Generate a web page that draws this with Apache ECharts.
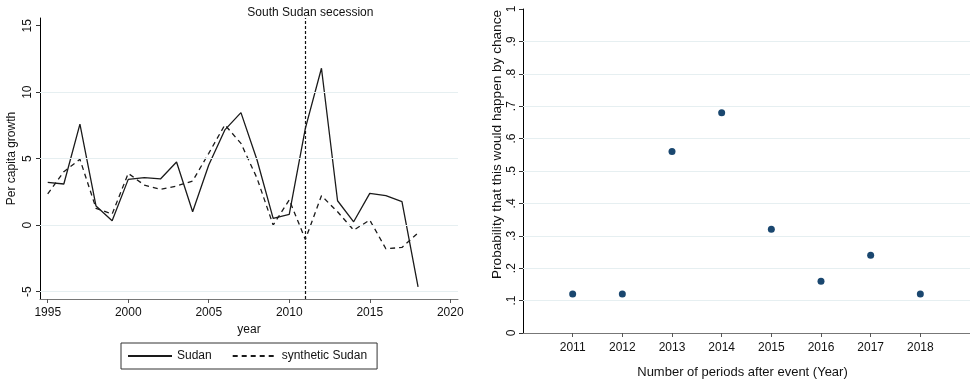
<!DOCTYPE html>
<html>
<head>
<meta charset="utf-8">
<script src="https://cdn.jsdelivr.net/npm/echarts@6/dist/echarts.min.js"></script>
<style>html,body{margin:0;padding:0;background:#fff;}#c{width:970px;height:387px;}</style>
</head>
<body>
<div id="c"></div>
<script>
// ---- data ----
const years = [1995,1996,1997,1998,1999,2000,2001,2002,2003,2004,2005,2006,2007,2008,2009,2010,2011,2012,2013,2014,2015,2016,2017,2018];
const sudan = [3.21,3.09,7.59,1.43,0.33,3.44,3.57,3.47,4.75,1.0,4.52,7.16,8.46,4.9,0.5,0.8,7.28,11.8,1.83,0.25,2.39,2.21,1.76,-4.65];
const synthetic = [2.34,4.02,4.95,1.26,0.83,3.89,3.01,2.69,2.94,3.32,5.4,7.54,6.15,3.52,0.0,1.9,-1.08,2.21,1.0,-0.38,0.38,-1.78,-1.68,-0.58];
const leftXTicks = [1995,2000,2005,2010,2015,2020];
const leftYTicks = [-5,0,5,10,15];
const leftGrid = [-5,0,5,10];
const eventYear = 2011;
const eventLabel = 'South Sudan secession';

const periods = [2011,2012,2013,2014,2015,2016,2017,2018];
const probability = [0.12,0.12,0.56,0.68,0.32,0.16,0.24,0.12];
const rightGrid = [0.1,0.2,0.3,0.4,0.5,0.6,0.7,0.8,0.9];

const font = 'Liberation Sans, Arial, sans-serif';
const txt = {fontFamily: font, fontSize: 12, color: '#111'};
const gridLineStyle = {color: '#e6eff1', width: 1, type: 'solid'};

function probFmt(v){
  const r = Math.round(v*10)/10;
  if (r === 0) return '0';
  if (r === 1) return '1';
  return r.toFixed(1).replace('0.', '.');
}
const plain = v => String(Math.round(v));

const chart = echarts.init(document.getElementById('c'), null, {renderer: 'canvas'});
chart.setOption({
  animation: false,
  backgroundColor: '#fff',
  textStyle: {fontFamily: font},
  grid: [
    {left: 40, top: 18, width: 418, height: 281, containLabel: false},
    {left: 523, top: 9, width: 447, height: 324, containLabel: false}
  ],
  legend: {
    data: ['Sudan', 'synthetic Sudan'],
    left: 121, top: 343,
    padding: [7, 10, 7, 6],
    itemWidth: 44, itemHeight: 10, itemGap: 20,
    borderColor: '#333', borderWidth: 1,
    itemStyle: {opacity: 0, borderWidth: 0},
    textStyle: {fontFamily: font, fontSize: 12, color: '#111'}
  },
  xAxis: [
    {
      gridIndex: 0, type: 'value', min: 1994.52, max: 2020.48,
      name: 'year', nameLocation: 'middle', nameGap: 21,
      nameTextStyle: txt,
      axisLine: {show: true, onZero: false, lineStyle: {color: '#777', width: 1}},
      axisTick: {show: true, length: 4, lineStyle: {color: '#555'}, customValues: leftXTicks},
      axisLabel: Object.assign({margin: 8, customValues: leftXTicks, formatter: plain}, txt),
      splitLine: {show: false}
    },
    {
      gridIndex: 1, type: 'value', min: 2010, max: 2019,
      name: 'Number of periods after event (Year)', nameLocation: 'middle', nameGap: 33,
      nameTextStyle: Object.assign({}, txt, {fontSize: 13, padding: [0, 8, 0, 0]}),
      axisLine: {show: true, onZero: false, lineStyle: {color: '#777', width: 1}},
      axisTick: {show: true, length: 4, lineStyle: {color: '#555'}, customValues: periods},
      axisLabel: Object.assign({margin: 9, customValues: periods, formatter: plain}, txt),
      splitLine: {show: false}
    }
  ],
  yAxis: [
    {
      gridIndex: 0, type: 'value', min: -5.56, max: 15.58,
      name: 'Per capita growth', nameLocation: 'middle', nameGap: 22,
      nameTextStyle: txt,
      axisLine: {show: true, onZero: false, lineStyle: {color: '#000', width: 1}},
      axisTick: {show: true, length: 4, lineStyle: {color: '#333'}, customValues: leftYTicks},
      axisLabel: Object.assign({margin: 6, rotate: 90, customValues: leftYTicks}, txt),
      splitLine: {show: false}
    },
    {
      gridIndex: 1, type: 'value', min: 0, max: 1, interval: 0.1,
      name: 'Probability that this would happen by chance', nameLocation: 'middle', nameGap: 19,
      nameTextStyle: Object.assign({}, txt, {fontSize: 13.6, padding: [0, 0, 0, 53]}),
      axisLine: {show: true, onZero: false, lineStyle: {color: '#000', width: 1}},
      axisTick: {show: true, length: 4, lineStyle: {color: '#333'}},
      axisLabel: Object.assign({margin: 5, rotate: 90, formatter: probFmt}, txt),
      splitLine: {show: false}
    }
  ],
  series: [
    {
      name: '_gridL', type: 'line', xAxisIndex: 0, yAxisIndex: 0, data: [], z: 1, silent: true,
      markLine: {silent: true, symbol: 'none', label: {show: false}, lineStyle: gridLineStyle,
        data: leftGrid.map(v => ({yAxis: v}))}
    },
    {
      name: '_gridR', type: 'line', xAxisIndex: 1, yAxisIndex: 1, data: [], z: 1, silent: true,
      markLine: {silent: true, symbol: 'none', label: {show: false}, lineStyle: gridLineStyle,
        data: rightGrid.map(v => ({yAxis: v}))}
    },
    {
      name: 'Sudan', type: 'line', xAxisIndex: 0, yAxisIndex: 0, z: 3,
      data: years.map((y, i) => [y, sudan[i]]),
      showSymbol: false, symbol: 'none',
      lineStyle: {color: '#1a1a1a', width: 1.3, type: 'solid'},
      itemStyle: {color: '#1a1a1a'}
    },
    {
      name: 'synthetic Sudan', type: 'line', xAxisIndex: 0, yAxisIndex: 0, z: 3,
      data: years.map((y, i) => [y, synthetic[i]]),
      showSymbol: false, symbol: 'none',
      lineStyle: {color: '#1a1a1a', width: 1.3, type: [5, 4]},
      itemStyle: {color: '#1a1a1a'},
      markLine: {
        silent: true, symbol: 'none',
        lineStyle: {color: '#111', width: 1.2, type: [3, 2]},
        label: {show: true, position: 'end', formatter: eventLabel, distance: 0, offset: [5, 1],
          fontFamily: font, fontSize: 12, color: '#111'},
        data: [{xAxis: eventYear}]
      }
    },
    {
      name: 'prob', type: 'scatter', xAxisIndex: 1, yAxisIndex: 1, z: 3,
      data: periods.map((p, i) => [p, probability[i]]),
      symbol: 'circle', symbolSize: 7,
      itemStyle: {color: '#1a476f', opacity: 1}
    }
  ]
});
</script>
</body>
</html>
